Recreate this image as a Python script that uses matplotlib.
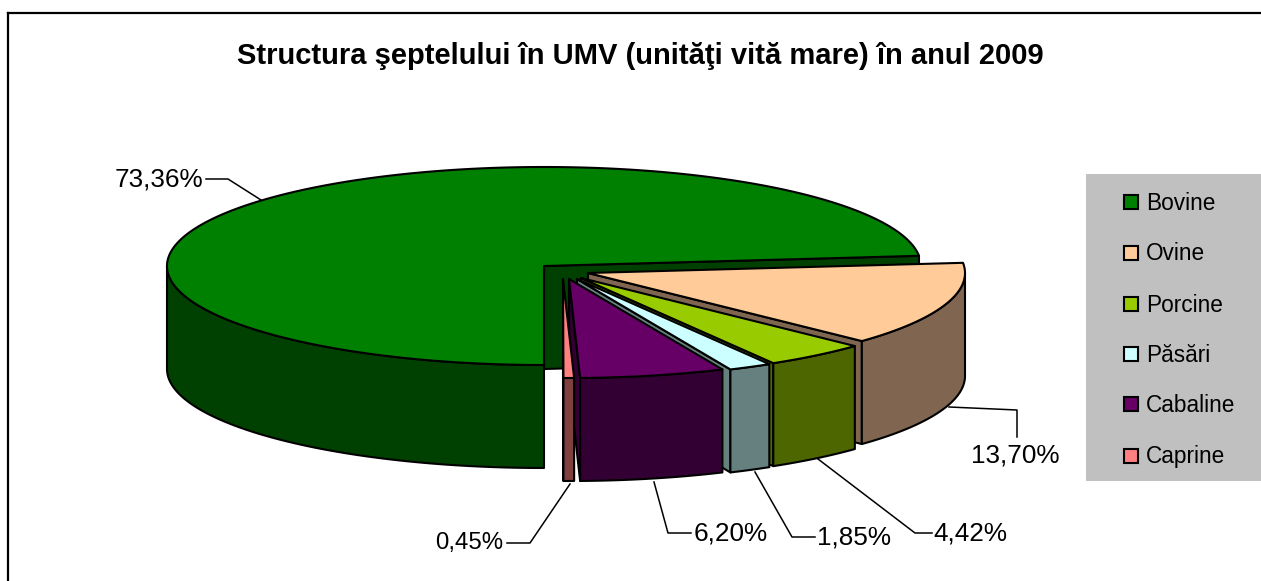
import numpy as np
import matplotlib
matplotlib.use("Agg")
import matplotlib.pyplot as plt
from matplotlib.patches import Polygon, Rectangle

# data
categories = ["Bovine", "Ovine", "Porcine", "Păsări", "Cabaline", "Caprine"]
values = [73.36, 13.70, 4.42, 1.85, 6.20, 0.45]
value_labels = ["73,36%", "13,70%", "4,42%", "1,85%", "6,20%", "0,45%"]
title = "Structura şeptelului în UMV (unităţi vită mare) în anul 2009"

# styles
top_colors = ["#008000", "#FFCC99", "#99CC00", "#CCFFFF", "#660066", "#FF8080"]
wall_colors = ["#004000", "#806650", "#4D6600", "#668080", "#330033", "#804040"]
# apex of each exploded slice, in pixels
apex = [(544, 266), (588, 273), (581, 278), (577, 279), (569, 279), (563, 279)]
# leader lines and label anchors
leaders = [
    [(206, 179), (228, 179), (261, 200)],
    [(949, 407), (1017, 410), (1017, 437)],
    [(818, 459), (915, 533), (932, 533)],
    [(755, 472), (792, 537), (815, 537)],
    [(654, 482), (668, 533), (691, 533)],
    [(507, 543), (530, 543), (570, 484)],
]
label_pos = [(159, 180), (1015, 456), (970, 534), (854, 538), (731, 534), (469.5, 543)]
label_size = [18.8, 18.8, 18.8, 18.8, 18.8, 17.3]
legend_y = [202, 253, 304, 354, 404, 456]

RX, RY, DEPTH = 377, 99, 103
START = 180.0
LW = 1.5

plt.rcParams['font.family'] = ['Liberation Sans', 'DejaVu Sans']
fig = plt.figure(figsize=(12.61, 5.81), dpi=100)
ax = fig.add_axes([0, 0, 1, 1])
ax.set_xlim(0, 1261)
ax.set_ylim(581, 0)
ax.axis("off")


def rim(cx, cy, a1, a2, dy=0):
    # points on the ellipse, angle clockwise from the top
    t = np.radians(np.linspace(a1, a2, max(int(abs(a2 - a1) * 2), 2)))
    return np.column_stack([cx + RX * np.sin(t), cy - RY * np.cos(t) + dy])


def poly(pts, color, z):
    ax.add_patch(Polygon(pts, closed=True, facecolor=color, edgecolor="black",
                         linewidth=LW, joinstyle="round", zorder=z))


# frame, only top and left are drawn
ax.plot([8, 8], [581, 13], color="black", lw=1.6, zorder=1, solid_capstyle="projecting")
ax.plot([8, 1261], [13, 13], color="black", lw=1.6, zorder=1, solid_capstyle="projecting")

ax.text(640, 56, title, fontsize=21, fontweight="bold", ha="center", va="center")

# slices back to front
angles = START + np.cumsum([0] + [v * 3.6 for v in values])
z = 3
for i in range(len(values)):
    cx, cy = apex[i]
    a1, a2 = angles[i], angles[i + 1]
    # end face of the slice, faces the viewer for all of these
    end = rim(cx, cy, a2, a2)[0]
    poly([(cx, cy), end, (end[0], end[1] + DEPTH), (cx, cy + DEPTH)], wall_colors[i], z)
    z += 1
    # outer wall, only the front half of the rim shows
    vis = []
    for lo, hi in [(90, 270), (450, 630)]:
        b1, b2 = max(a1, lo), min(a2, hi)
        if b2 > b1:
            vis.append((b1, b2))
    for b1, b2 in vis:
        front = rim(cx, cy, b1, b2)
        back = rim(cx, cy, b1, b2, DEPTH)[::-1]
        poly(np.vstack([front, back]), wall_colors[i], z)
        z += 1
    # top surface
    arc = rim(cx, cy, a1, a2)
    poly(np.vstack([[(cx, cy)], arc]), top_colors[i], z)
    z += 1

# leader lines and labels
for i in range(len(values)):
    xs, ys = zip(*leaders[i])
    ax.plot(xs, ys, color="black", lw=1.1, zorder=1.5)
    ax.text(label_pos[i][0], label_pos[i][1], value_labels[i], fontsize=label_size[i],
            ha="center", va="center", zorder=50)

# legend
ax.add_patch(Rectangle((1086, 174), 175, 307, facecolor="#C0C0C0", edgecolor="none", zorder=40))
for i in range(len(categories)):
    ax.add_patch(Rectangle((1124, legend_y[i] - 7), 14, 14, facecolor=top_colors[i],
                           edgecolor="black", linewidth=LW, zorder=41))
    ax.text(1146, legend_y[i] + 1, categories[i], fontsize=16.3, ha="left", va="center", zorder=41)

fig.savefig("out.png", dpi=100)
